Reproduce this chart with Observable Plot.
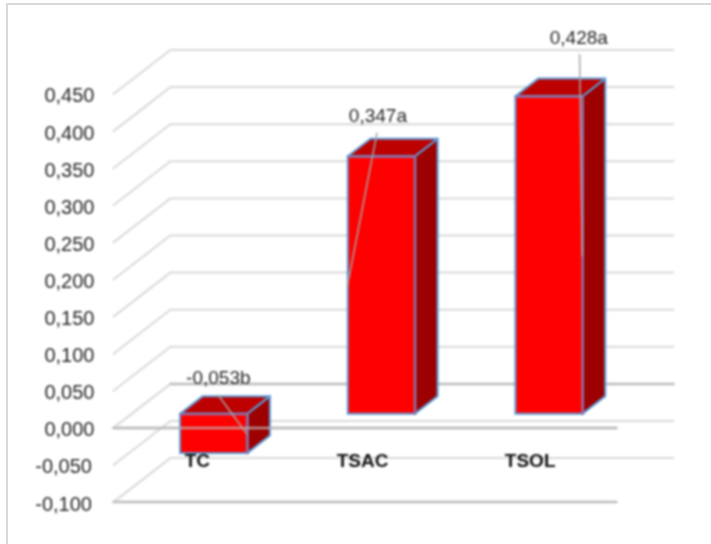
<!DOCTYPE html>
<html>
<head>
<meta charset="utf-8">
<script src="https://cdn.jsdelivr.net/npm/d3@7"></script>
<script src="https://cdn.jsdelivr.net/npm/@observablehq/plot@0.6"></script>
<style>
  html, body { margin: 0; padding: 0; background: #fff; overflow: hidden; }
  #frame { position: absolute; left: 6px; top: 3px; width: 720px; height: 560px;
           border-top: 2px solid #d9d9d9; border-left: 2px solid #d9d9d9; }
  #chart { position: absolute; left: 0; top: 0; }
  #chart svg { filter: blur(0.8px); }
</style>
</head>
<body>
<div id="frame"></div>
<div id="chart"></div>
<script>
// chart values
const categories = ["TC", "TSAC", "TSOL"];
const values = [-0.053, 0.347, 0.428];
const valueLabels = ["-0,053b", "0,347a", "0,428a"];
const yTicks = [-0.1, -0.05, 0, 0.05, 0.1, 0.15, 0.2, 0.25, 0.3, 0.35, 0.4, 0.45];
// callouts, in chart units: where each label sits and where its leader starts
const labelX = [0.625, 1.577, 2.775];
const labelY = [0.068, 0.42, 0.526];
const leaderFromX = [0.625, 1.571, 2.78];
const leaderFromY = [0.044, 0.397, 0.503];
const leaderEdge = [0.69, 0.29, 0.69];
const categoryX = [0.5, 1.485, 2.485];

// oblique projection of the 3-D box: how much a full depth step moves in x and y units
const DX = 57 / 168, DY = 44 / 742;
const zFront = 0.31, zBack = 0.71;
const barL = 0.295, barR = 0.695;
const proj = (x, y, z) => ({x: x + z * DX, y: y + z * DY});

const fmt = v => d3.format(".3f")(v).replace("−", "-").replace(".", ",");
const xEnd = categories.length;

// walls
const wall = yTicks.flatMap(v => [
  {v, ...proj(0, v, 0)}, {v, ...proj(0, v, 1)}, {v, ...proj(xEnd, v, 1)}
]);
const backZero = [proj(0, 0, 1), proj(xEnd, 0, 1)];
const front = [0, -0.1].flatMap(v => [{v, x: 0, y: v}, {v, x: xEnd, y: v}]);

// boxes
const boxes = categories.map((c, i) => ({
  c, lo: Math.min(0, values[i]), hi: Math.max(0, values[i]),
  l: i + barL, r: i + barR
}));
const fronts = boxes.map(b => ({
  c: b.c,
  x1: proj(b.l, 0, zFront).x, x2: proj(b.r, 0, zFront).x,
  y1: proj(0, b.lo, zFront).y, y2: proj(0, b.hi, zFront).y
}));
const sides = boxes.flatMap(b => [zFront, zBack].map(z => ({
  c: b.c, x: proj(b.r, 0, z).x, y1: proj(0, b.lo, z).y, y2: proj(0, b.hi, z).y
})));
const tops = boxes.flatMap(b => [zFront, zBack].map(z => ({
  c: b.c, y: proj(0, b.hi, z).y, x1: proj(b.l, 0, z).x, x2: proj(b.r, 0, z).x
})));
const seams = boxes.flatMap(b => [
  {c: b.c, ...proj(b.l, b.hi, zFront)},
  {c: b.c, ...proj(b.r, b.hi, zFront)},
  {c: b.c, ...proj(b.r, b.lo, zFront)}
]);

// callouts
const leaders = categories.flatMap((c, i) => [
  {c, x: leaderFromX[i], y: leaderFromY[i]},
  {c, ...proj(i + leaderEdge[i], values[i] / 2, zFront)}
]);
const callouts = categories.map((c, i) => ({t: valueLabels[i], x: labelX[i], y: labelY[i]}));

const font = "Liberation Sans, Arial, sans-serif";
const tickStyle = {tickFormat: fmt, tickSize: 0, fontSize: 20, fill: "#262626", dy: 2, style: {letterSpacing: "1px"}};
const chart = Plot.plot({
  width: 711, height: 544,
  marginLeft: 113, marginRight: 95, marginTop: 93.5, marginBottom: 42.4,
  style: {fontFamily: font, background: "transparent", overflow: "visible"},
  x: {domain: [0, xEnd], axis: null},
  y: {domain: [-0.1, 0.45], axis: null},
  marks: [
    Plot.line(wall, {x: "x", y: "y", z: "v", stroke: "#d9d9d9", strokeWidth: 2, curve: "linear"}),
    Plot.line(backZero, {x: "x", y: "y", stroke: "#bcbcbc", strokeWidth: 2.5}),
    Plot.line(front, {x: "x", y: "y", z: "v", stroke: "#bcbcbc", strokeWidth: 2.5}),
    Plot.areaY(sides, {x: "x", y1: "y1", y2: "y2", z: "c", fill: "#9c0000", stroke: "#5b9bd5", strokeWidth: 2, curve: "linear"}),
    Plot.areaX(tops, {y: "y", x1: "x1", x2: "x2", z: "c", fill: "#bd0000", stroke: "#5b9bd5", strokeWidth: 2, curve: "linear"}),
    Plot.rect(fronts, {x1: "x1", x2: "x2", y1: "y1", y2: "y2", fill: "#ff0000", stroke: "#5b9bd5", strokeWidth: 2}),
    Plot.line(seams, {x: "x", y: "y", z: "c", stroke: "#8f70a8", strokeWidth: 2, curve: "linear"}),
    Plot.line(front.filter(d => d.v === 0), {x: "x", y: "y", stroke: "#bcbcbc", strokeOpacity: 0.75, strokeWidth: 2.5}),
    Plot.line(leaders, {x: "x", y: "y", z: "c", stroke: "#a6a6a6", strokeWidth: 1.5, curve: "linear"}),
    Plot.axisY({ticks: yTicks.filter(v => v >= 0), tickPadding: 19, ...tickStyle}),
    Plot.axisY({ticks: yTicks.filter(v => v < 0), tickPadding: 21.5, ...tickStyle}),
    Plot.text(callouts, {x: "x", y: "y", text: "t", fontSize: 19, fill: "#262626", style: {letterSpacing: "0.3px"}}),
    Plot.text(categories, {x: (d, i) => categoryX[i], y: () => -0.045, text: d => d, fontSize: 19, fontWeight: "bold", fill: "#111111"})
  ]
});
document.getElementById("chart").append(chart);
</script>
</body>
</html>
